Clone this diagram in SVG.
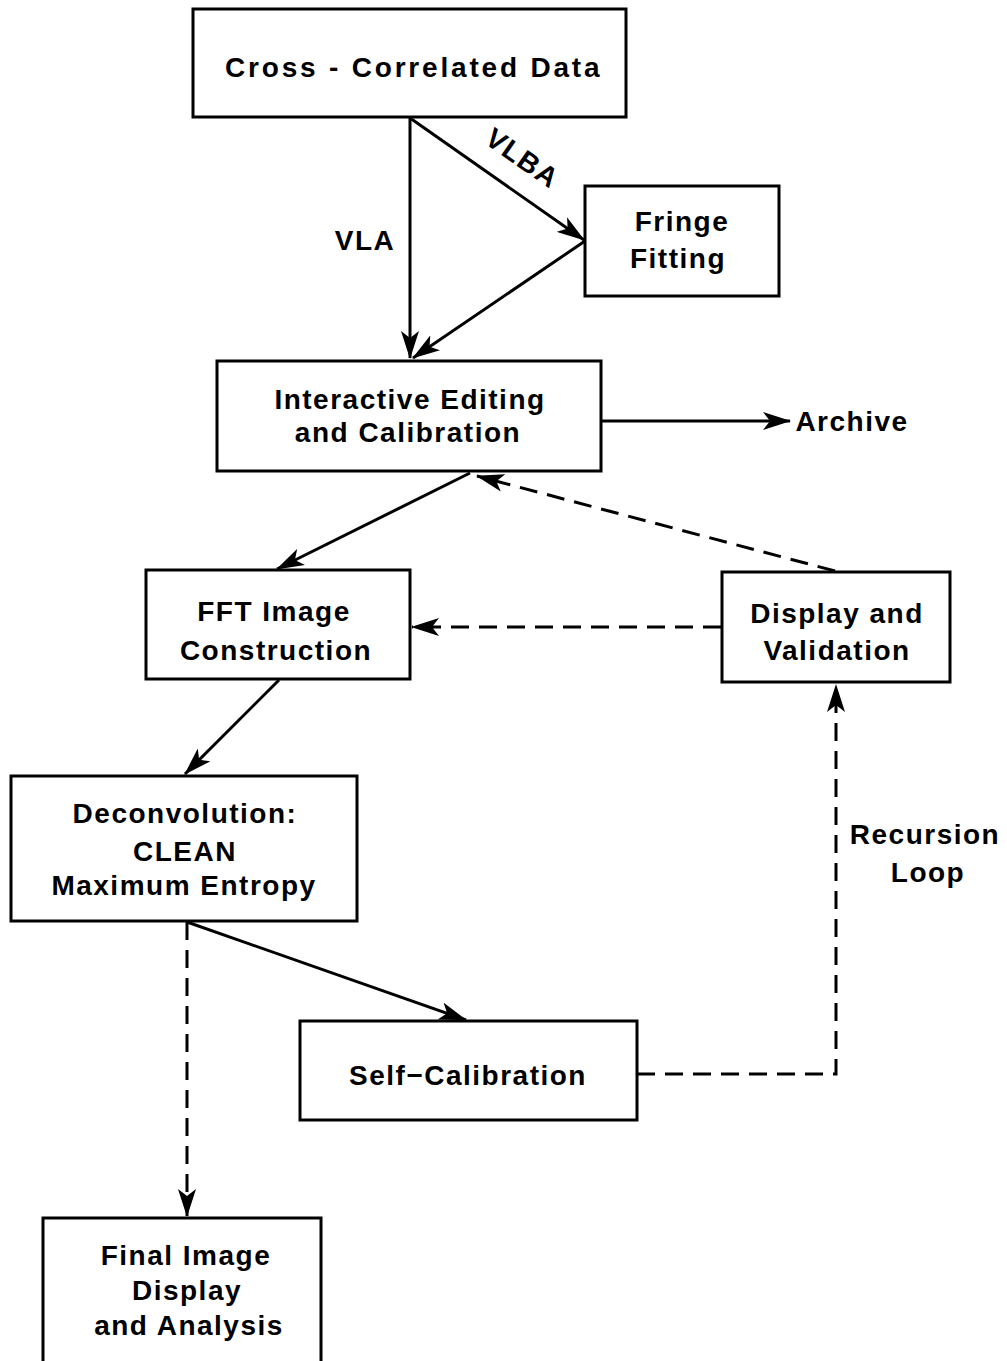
<svg xmlns="http://www.w3.org/2000/svg" width="1007" height="1361" viewBox="0 0 1007 1361">
<style>
.box{fill:#fff;stroke:#000;stroke-width:3}
.t{font-family:"Liberation Sans",Arial,sans-serif;font-weight:bold;font-size:28px;letter-spacing:1.5px;fill:#000;text-anchor:middle}
.c{fill:none;stroke:#000;stroke-width:3}
.d{fill:none;stroke:#000;stroke-width:3;stroke-dasharray:18,10}
</style>
<defs>
<marker id="ah" viewBox="0 0 28 18" refX="27" refY="9" markerWidth="28" markerHeight="18" markerUnits="userSpaceOnUse" orient="auto">
<path d="M0,0 L28,9 L0,18 L7,9 Z" fill="#000"/>
</marker>
</defs>
<rect width="1007" height="1361" fill="#fff"/>
<g id="connectors">
<line class="c" x1="410" y1="118" x2="410" y2="358" marker-end="url(#ah)"/>
<line class="c" x1="410" y1="118" x2="584" y2="240" marker-end="url(#ah)"/>
<line class="c" x1="585" y1="241" x2="413" y2="358" marker-end="url(#ah)"/>
<line class="c" x1="601" y1="421" x2="790" y2="421" marker-end="url(#ah)"/>
<line class="c" x1="470" y1="473" x2="277" y2="569" marker-end="url(#ah)"/>
<line class="d" x1="835" y1="571" x2="477" y2="476" marker-end="url(#ah)"/>
<line class="d" x1="721" y1="627" x2="412" y2="627" marker-end="url(#ah)"/>
<line class="c" x1="279" y1="680" x2="185" y2="774" marker-end="url(#ah)"/>
<line class="d" x1="187" y1="922" x2="187" y2="1216" marker-end="url(#ah)"/>
<line class="c" x1="187" y1="922" x2="466" y2="1020" marker-end="url(#ah)"/>
<polyline class="d" points="637,1074 836,1074 836,685" marker-end="url(#ah)"/>
<text class="t" x="365" y="250">VLA</text>
<text class="t" transform="translate(517,166) rotate(35)">VLBA</text>
<text class="t" x="852" y="431">Archive</text>
<text class="t" x="925" y="844">Recursion</text>
<text class="t" x="928" y="882">Loop</text>
</g>
<g id="n-cross"><rect class="box" x="193" y="9" width="433" height="108"/><text class="t" x="413" y="77" textLength="376" lengthAdjust="spacing">Cross - Correlated Data</text></g>
<g id="n-fringe"><rect class="box" x="585" y="186" width="194" height="110"/><text class="t" x="682" y="231">Fringe</text><text class="t" x="678" y="268">Fitting</text></g>
<g id="n-edit"><rect class="box" x="217" y="361" width="384" height="110"/><text class="t" x="410" y="409">Interactive Editing</text><text class="t" x="408" y="442">and Calibration</text></g>
<g id="n-fft"><rect class="box" x="146" y="570" width="264" height="109"/><text class="t" x="274" y="621">FFT Image</text><text class="t" x="276" y="660">Construction</text></g>
<g id="n-display"><rect class="box" x="722" y="572" width="228" height="110"/><text class="t" x="837" y="623">Display and</text><text class="t" x="837" y="660">Validation</text></g>
<g id="n-deconv"><rect class="box" x="11" y="776" width="346" height="145"/><text class="t" x="185" y="823">Deconvolution:</text><text class="t" x="185" y="861">CLEAN</text><text class="t" x="184" y="895">Maximum Entropy</text></g>
<g id="n-selfcal"><rect class="box" x="300" y="1021" width="337" height="99"/><text class="t" x="468" y="1085">Self−Calibration</text></g>
<g id="n-final"><rect class="box" x="43" y="1218" width="278" height="160"/><text class="t" x="186" y="1265">Final  Image</text><text class="t" x="187" y="1300">Display</text><text class="t" x="189" y="1335">and Analysis</text></g>
</svg>
